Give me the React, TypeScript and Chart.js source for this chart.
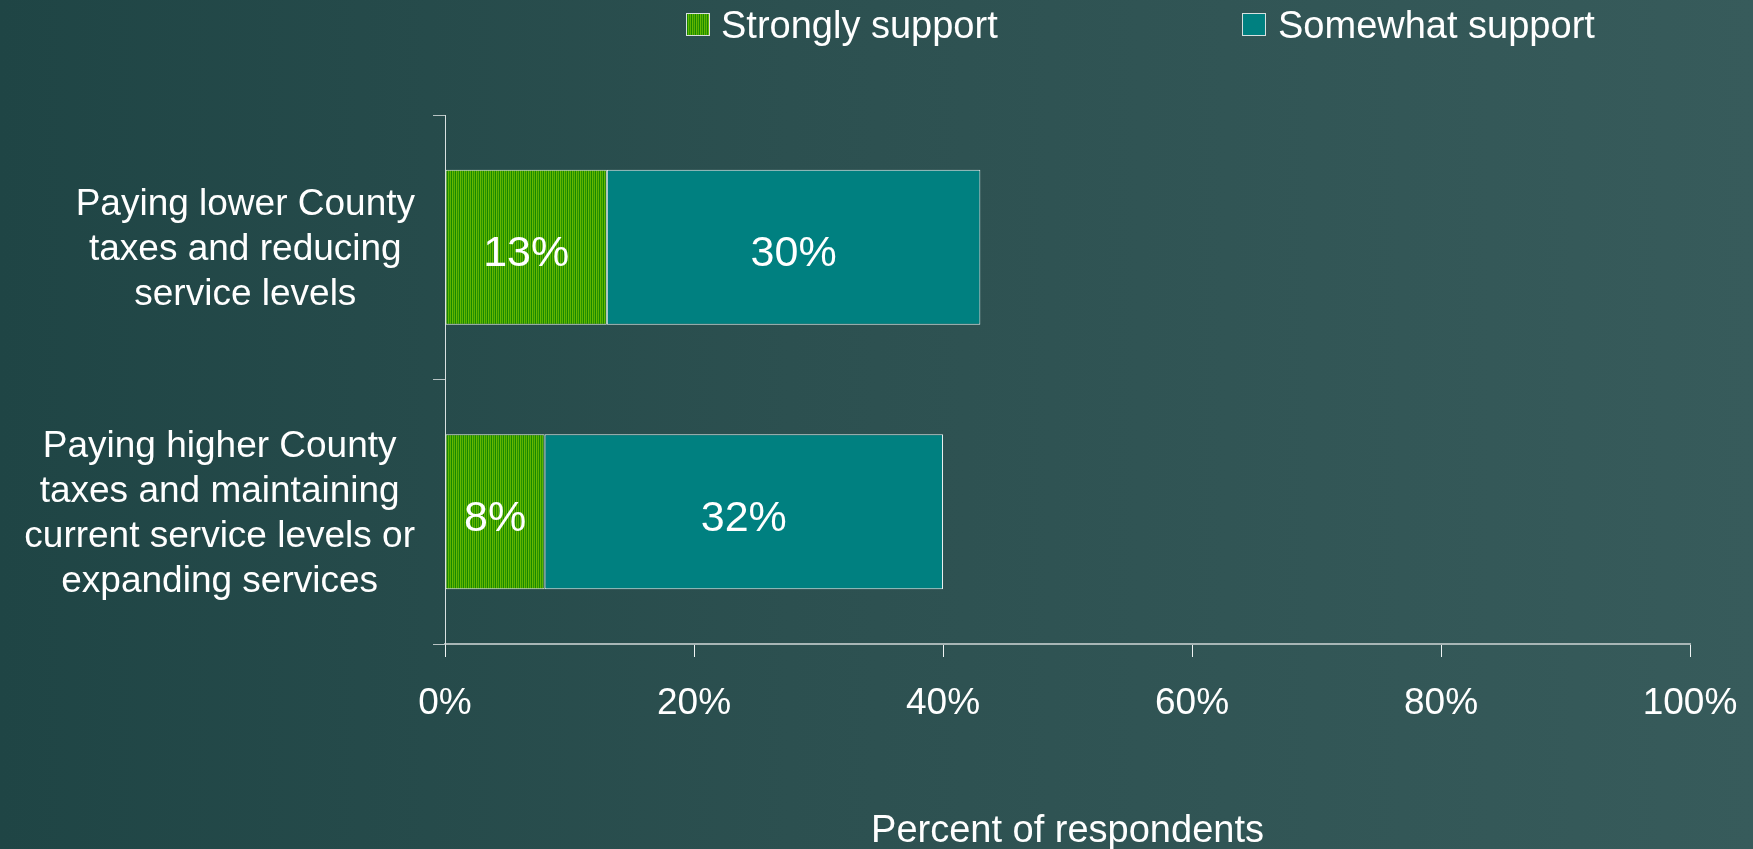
import React, { useEffect, useRef } from "react";
import { Chart, registerables } from "chart.js";

Chart.register(...registerables);

// ---- Data ----
const categories: string[][] = [
  ["Paying lower County", "taxes and reducing", "service levels"],
  ["Paying higher County", "taxes and maintaining", "current service levels or", "expanding services"],
];
const seriesNames = ["Strongly support", "Somewhat support"];
const stronglySupport = [13, 8];
const somewhatSupport = [30, 32];
const xAxisTitle = "Percent of respondents";
const xMin = 0;
const xMax = 100;
const xStep = 20;

// ---- Styles ----
const FONT = "'Liberation Sans', Arial, Helvetica, sans-serif";
const WHITE = "#ffffff";
const TEAL = "#008080";

function makeStripePattern(ctx: CanvasRenderingContext2D): CanvasPattern | string {
  const c = document.createElement("canvas");
  c.width = 4;
  c.height = 4;
  const g = c.getContext("2d");
  if (!g) return "#4aa300";
  const cols = ["#66b800", "#2a9400", "#5cb200", "#178800"];
  cols.forEach((col, i) => {
    g.fillStyle = col;
    g.fillRect(i, 0, 1, 4);
  });
  return ctx.createPattern(c, "repeat") || "#4aa300";
}

const categoryLabelPlugin = {
  id: "categoryLabels",
  afterDraw(chart: any) {
    const { ctx, chartArea, scales } = chart;
    const y = scales.y;
    ctx.save();
    ctx.font = `37px ${FONT}`;
    ctx.fillStyle = WHITE;
    ctx.textAlign = "center";
    ctx.textBaseline = "middle";
    const right = chartArea.left - 30;
    const lh = 45;
    (chart.data.labels as string[][]).forEach((lines, i) => {
      const cy = y.getPixelForValue(i) + 3;
      const widest = Math.max(...lines.map((l) => ctx.measureText(l).width));
      const cx = right - widest / 2;
      lines.forEach((l, k) => ctx.fillText(l, cx, cy + (k - (lines.length - 1) / 2) * lh));
    });
    ctx.restore();
  },
};

const dataLabelPlugin = {
  id: "dataLabels",
  afterDatasetsDraw(chart: any) {
    const { ctx } = chart;
    ctx.save();
    ctx.font = `43px ${FONT}`;
    ctx.fillStyle = WHITE;
    ctx.textAlign = "center";
    ctx.textBaseline = "middle";
    chart.data.datasets.forEach((ds: any, di: number) => {
      const meta = chart.getDatasetMeta(di);
      meta.data.forEach((el: any, i: number) => {
        const v = ds.data[i];
        const cx = (el.x + el.base) / 2;
        ctx.fillText(`${v}%`, cx, el.y + 7);
      });
    });
    ctx.restore();
  },
};

const legendPos = [
  { box: 686, text: 721 },
  { box: 1242, text: 1278 },
];

const customLegendPlugin = {
  id: "customLegend",
  afterDraw(chart: any) {
    const { ctx } = chart;
    ctx.save();
    ctx.font = `38px ${FONT}`;
    ctx.textAlign = "left";
    ctx.textBaseline = "middle";
    chart.data.datasets.forEach((ds: any, i: number) => {
      const p = legendPos[i];
      if (!p) return;
      ctx.fillStyle = ds.backgroundColor;
      ctx.fillRect(p.box, 13, 24, 23);
      ctx.strokeStyle = "#d8e0e0";
      ctx.lineWidth = 1;
      ctx.strokeRect(p.box + 0.5, 13.5, 23, 22);
      ctx.fillStyle = WHITE;
      ctx.fillText(ds.label, p.text, 28);
    });
    ctx.restore();
  },
};

export default function App() {
  const canvasRef = useRef<HTMLCanvasElement | null>(null);

  useEffect(() => {
    const canvas = canvasRef.current;
    if (!canvas) return;
    const ctx = canvas.getContext("2d");
    if (!ctx) return;
    const stripes = makeStripePattern(ctx);

    const chart = new Chart(canvas, {
      type: "bar",
      data: {
        labels: categories as any,
        datasets: [
          {
            label: seriesNames[0],
            data: stronglySupport,
            backgroundColor: stripes as any,
            borderColor: "#e8f0e8",
            borderWidth: 1,
            borderSkipped: false,
            barPercentage: 0.586,
            categoryPercentage: 1,
          },
          {
            label: seriesNames[1],
            data: somewhatSupport,
            backgroundColor: TEAL,
            borderColor: "#e8f0f0",
            borderWidth: 1,
            borderSkipped: false,
            barPercentage: 0.586,
            categoryPercentage: 1,
          },
        ],
      },
      options: {
        indexAxis: "y",
        responsive: false,
        animation: false,
        devicePixelRatio: 1,
        layout: { padding: { left: 445, top: 115, right: 63, bottom: 0 } },
        plugins: {
          legend: { display: false },
          tooltip: { enabled: false },
        },
        scales: {
          x: {
            stacked: true,
            min: xMin,
            max: xMax,
            ticks: {
              stepSize: xStep,
              callback: (v: any) => `${v}%`,
              color: WHITE,
              font: { family: FONT, size: 37, lineHeight: 1.2 },
              padding: 25,
              maxRotation: 0,
              autoSkip: false,
            },
            grid: {
              display: true,
              drawOnChartArea: false,
              drawTicks: true,
              tickLength: 13,
              color: "#f0f4f4",
              lineWidth: 1,
            },
            border: { display: true, color: "#a8b6b6", width: 2 },
            title: {
              display: true,
              text: xAxisTitle,
              color: WHITE,
              font: { family: FONT, size: 38, lineHeight: 1.2 },
              padding: { top: 0, bottom: -5 },
            },
            afterFit: (s: any) => {
              s.height = 205;
              s.paddingLeft = 0;
              s.paddingRight = 0;
            },
          },
          y: {
            stacked: true,
            ticks: { display: false },
            grid: {
              display: true,
              drawOnChartArea: false,
              drawTicks: true,
              tickLength: 12,
              color: "#b8c4c4",
              offset: true,
            },
            border: { display: true, color: "#d8e0e0", width: 1 },
            afterFit: (s: any) => {
              s.width = 0;
              s.paddingTop = 0;
              s.paddingBottom = 0;
            },
          },
        },
      } as any,
      plugins: [categoryLabelPlugin, dataLabelPlugin, customLegendPlugin],
    });

    return () => chart.destroy();
  }, []);

  return (
    <div
      style={{
        position: "absolute",
        left: 0,
        top: 0,
        width: 1753,
        height: 849,
        background: "linear-gradient(to right, #1f4545 0%, #2c5050 45%, #375b5b 100%)",
        overflow: "hidden",
      }}
    >
      <canvas ref={canvasRef} width={1753} height={849} style={{ display: "block" }} />
    </div>
  );
}
